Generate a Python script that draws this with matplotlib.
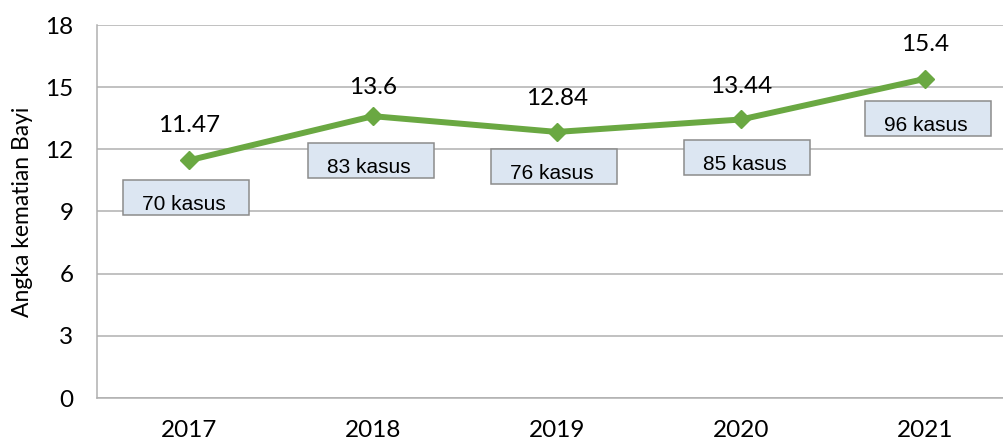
"""
Angka kematian bayi 2017-2021
"""

import matplotlib.pyplot as plt
from matplotlib.patches import Rectangle
from matplotlib.transforms import IdentityTransform

# data
years = ['2017', '2018', '2019', '2020', '2021']
akb = [11.47, 13.6, 12.84, 13.44, 15.4]
kasus = [70, 83, 76, 85, 96]
yticks = [0, 3, 6, 9, 12, 15, 18]

# label placement in pixels relative to each point (layout, not data)
value_dy = [36.5, 30, 35, 34.5, 36]
box_dx = [-3, -2, -3, 5.5, 3]
box_dy = [37.5, 44, 35, 38.5, 39.5]
box_w, box_h = 126, 35

green = '#6aa842'
grid_c = '#b0b0b0'

fig = plt.figure(figsize=(10.04, 4.44), dpi=100)
ax = fig.add_axes([97 / 1004, 46 / 444, 920 / 1004, 373 / 444])

x = list(range(len(years)))
ax.plot(x, akb, color=green, linewidth=4.3, marker='D', markersize=9,
        zorder=4, solid_capstyle='round')

ax.set_xlim(-0.5, 4.5)
ax.set_ylim(0, 18)
ax.set_yticks(yticks)
ax.set_xticks(x)
ax.set_xticklabels(years)
ax.tick_params(length=0, labelsize=17.5, labelcolor='black')
ax.tick_params(axis='y', pad=17)
ax.tick_params(axis='x', pad=16)
for lab in ax.get_xticklabels() + ax.get_yticklabels():
    lab.set_family('Lato')

ax.grid(axis='y', color=grid_c, linewidth=1.1)
ax.set_axisbelow(True)
for side in ['top', 'right']:
    ax.spines[side].set_visible(False)
for side in ['left', 'bottom']:
    ax.spines[side].set_color(grid_c)
    ax.spines[side].set_linewidth(1.1)

ax.set_ylabel('Angka kematian Bayi', fontsize=16.5, family='Lato',
              labelpad=9)

for i, (v, k) in enumerate(zip(akb, kasus)):
    # value above the point
    ax.annotate(f'{v:g}', (i, v), xytext=(0, value_dy[i] - 8.3),
                textcoords='offset pixels', ha='center', va='baseline',
                fontsize=17.5, family='Lato', zorder=5)
    # boxed case count below the point
    px, py = ax.transData.transform((i, v))
    cx, cy = px + box_dx[i], py - box_dy[i]
    rect = Rectangle((cx - box_w / 2, cy - box_h / 2), box_w, box_h,
                     transform=IdentityTransform(), facecolor='#dce6f2',
                     edgecolor='#8c8c8c', linewidth=1.1, zorder=3,
                     clip_on=False)
    ax.add_artist(rect)
    ax.annotate(f'{k} kasus', (i, v),
                xytext=(box_dx[i] - 2, -box_dy[i] - 5.5 - 7),
                textcoords='offset pixels', ha='center', va='baseline',
                fontsize=15, family='Liberation Sans', zorder=6)

fig.savefig('out.png', dpi=100)
